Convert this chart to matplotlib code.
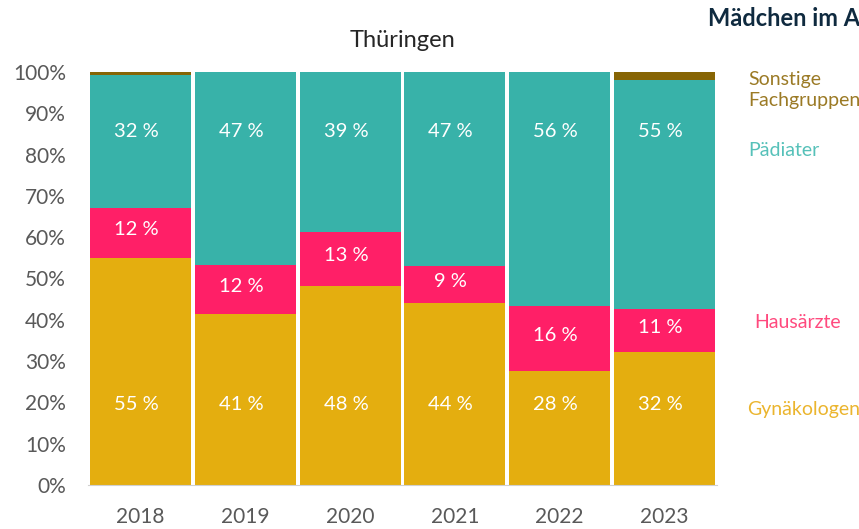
import numpy as np
import matplotlib.pyplot as plt

# Daten (Anteile in %)
years = ["2018", "2019", "2020", "2021", "2022", "2023"]
gyn = [55.0, 41.4, 48.3, 44.0, 27.6, 32.2]
haus = [12.1, 11.8, 13.0, 9.1, 15.8, 10.3]
paed = [32.2, 46.8, 38.7, 46.9, 56.6, 55.5]
sonst = [0.7, 0.0, 0.0, 0.0, 0.0, 2.0]

gyn_lbl = ["55 %", "41 %", "48 %", "44 %", "28 %", "32 %"]
haus_lbl = ["12 %", "12 %", "13 %", "9 %", "16 %", "11 %"]
paed_lbl = ["32 %", "47 %", "39 %", "47 %", "56 %", "55 %"]

C_GYN = "#E4AE0F"
C_HAUS = "#FF1F67"
C_PAED = "#38B2A9"
C_SONST = "#876505"

plt.rcParams["font.family"] = ["Lato", "DejaVu Sans"]

fig = plt.figure(figsize=(8.59, 5.29), dpi=100)
ax = fig.add_axes([88 / 859, 1 - 485 / 529, (717 - 88) / 859, (485 - 72) / 529])

x = np.arange(len(years))
w = 0.965
gyn = np.array(gyn)
haus = np.array(haus)
paed = np.array(paed)
sonst = np.array(sonst)

ax.bar(x, gyn, w, color=C_GYN)
ax.bar(x, haus, w, bottom=gyn, color=C_HAUS)
ax.bar(x, paed, w, bottom=gyn + haus, color=C_PAED)
ax.bar(x, sonst, w, bottom=gyn + haus + paed, color=C_SONST)

for i in range(len(years)):
    ax.text(x[i] - 0.04, 19.4, gyn_lbl[i], color="white", fontsize=14.5,
            ha="center", va="center")
    ax.text(x[i] - 0.04, gyn[i] + haus[i] / 2 + 0.8, haus_lbl[i], color="white",
            fontsize=14.5, ha="center", va="center")
    ax.text(x[i] - 0.04, 85.7, paed_lbl[i], color="white", fontsize=14.5,
            ha="center", va="center")

ax.set_xlim(-0.5, len(years) - 0.5)
ax.set_ylim(0, 100)
ax.set_yticks(np.arange(0, 101, 10))
ax.set_yticklabels([f"{v}%" for v in range(0, 101, 10)])
ax.set_xticks(x)
ax.set_xticklabels(years)
ax.tick_params(axis="both", length=0, labelsize=15, colors="#595959")
ax.tick_params(axis="y", pad=16)
ax.tick_params(axis="x", pad=16)
for s in ["top", "right", "left"]:
    ax.spines[s].set_visible(False)
ax.spines["bottom"].set_color("#D0D0D0")

fig.text(403 / 859, 1 - 40 / 529, "Thüringen", fontsize=17, color="#262626",
         ha="center", va="center")
fig.text(708 / 859, 1 - 19 / 529, "Mädchen im Alter", fontsize=17,
         fontweight="bold", color="#0F2A3F", ha="left", va="center")

fig.text(748 / 859, 1 - 90 / 529, "Sonstige\nFachgruppen", fontsize=14,
         color="#9B7A25", ha="left", va="center", linespacing=1.3)
fig.text(748 / 859, 1 - 150 / 529, "Pädiater", fontsize=14,
         color="#56C1B9", ha="left", va="center")
fig.text(754 / 859, 1 - 323 / 529, "Hausärzte", fontsize=14,
         color="#FF4A7E", ha="left", va="center")
fig.text(747 / 859, 1 - 410 / 529, "Gynäkologen", fontsize=14,
         color="#EBB52E", ha="left", va="center")

fig.savefig("out.png", dpi=100)
